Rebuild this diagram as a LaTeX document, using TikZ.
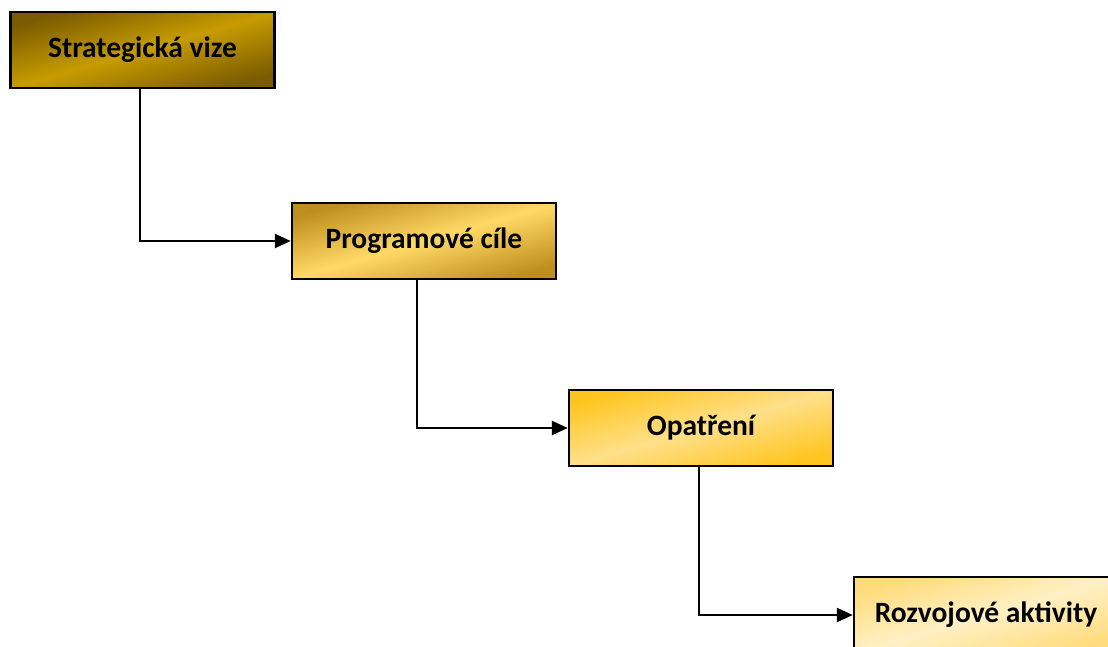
\documentclass[tikz,border=0pt]{standalone}
\usepackage{fontspec}
\setmainfont{Carlito}
\usetikzlibrary{arrows.meta}
\definecolor{gA1}{HTML}{7A5B00}
\definecolor{gA2}{HTML}{C79C00}
\definecolor{gB1}{HTML}{BF8F1E}
\definecolor{gB2}{HTML}{FFD966}
\definecolor{gC1}{HTML}{FFC51E}
\definecolor{gC2}{HTML}{FFE08A}
\definecolor{gD1}{HTML}{FFDB7A}
\definecolor{gD2}{HTML}{FFF0C4}
\tikzset{
  box/.style 2 args={draw=black, line width=2.4pt, minimum width=264pt, minimum height=76pt,
    inner sep=0pt, font=\bfseries\fontsize{29.5}{34}\selectfont,
    top color=#1, bottom color=#1, middle color=#2, shading angle=16},
  conn/.style={draw=black, line width=2.4pt, -{Triangle[length=16pt,width=14pt]}},
}
\begin{document}
\begin{tikzpicture}[x=1pt,y=-1pt]
\useasboundingbox (0,0) rectangle (1108,647);
\clip (0,0) rectangle (1108,647);
\node[box={gA1}{gA2}] (v) at (142.5,50) {Strategická vize};
\node[box={gB1}{gB2}] (p) at (424,241) {Programové cíle};
\node[box={gC1}{gC2}] (o) at (701,428) {Opatření};
\node[box={gD1}{gD2}] (r) at (986,615) {Rozvojové aktivity};
\coordinate (c1) at (140,241);
\coordinate (c2) at (417,428);
\coordinate (c3) at (699,615);
\draw[conn] (v.south -| c1) -- (c1) -- (p.west);
\draw[conn] (p.south -| c2) -- (c2) -- (o.west);
\draw[conn] (o.south -| c3) -- (c3) -- (r.west);
\end{tikzpicture}
\end{document}
